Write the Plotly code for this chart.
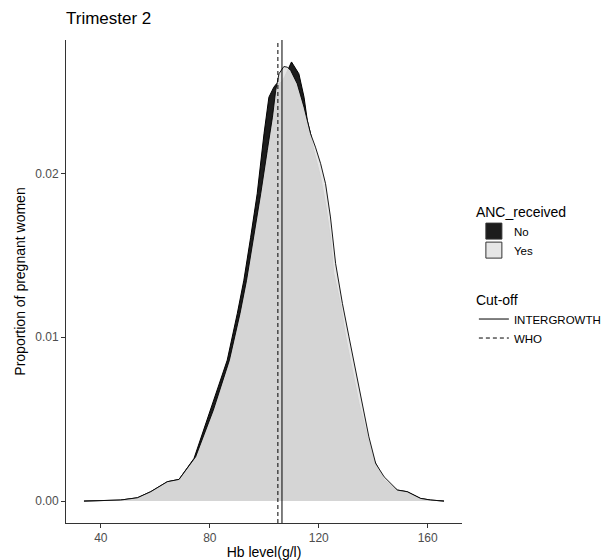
import plotly.graph_objects as go

# ---- data ----
no_hb = [33.8, 41.1, 47.2, 53.4, 58.3, 64.4, 68.7, 74.2, 80.3, 86.4, 90.1, 92.5, 95.0, 97.4,
         99.9, 101.7, 103.5, 104.5, 105.5, 106.5, 107.5, 108.5, 110.0, 112.7, 114.6, 115.8,
         117.0, 118.2, 120.7, 122.5, 124.3, 125.5, 128.0, 129.9, 132.3, 134.8, 137.9, 140.3,
         144.0, 148.9, 152.5, 157.4, 161.1, 166.0]
no_density = [0.0, 0.00002, 0.00006, 0.0002, 0.00057, 0.00118, 0.00132, 0.0026, 0.00555, 0.0086,
              0.01145, 0.01348, 0.0161, 0.01876, 0.02242, 0.02465, 0.02526, 0.02547, 0.0255,
              0.0256, 0.0259, 0.0263, 0.0268, 0.02608, 0.02465, 0.02323, 0.02242, 0.0214,
              0.01977, 0.01815, 0.01612, 0.0139, 0.01205, 0.01002, 0.00799, 0.00596, 0.00392,
              0.0025, 0.0013, 0.00067, 0.00057, 0.00016, 0.00006, 0.0]

yes_hb = [33.8, 41.1, 47.2, 53.4, 58.3, 64.4, 68.7, 74.8, 81.3, 87.2, 91.1, 93.5, 96.2, 98.7,
          101.1, 103.0, 104.2, 105.4, 107.2, 108.5, 109.7, 112.1, 114.6, 116.4, 117.0, 118.8,
          120.7, 122.5, 124.3, 126.2, 128.7, 131.1, 133.6, 136.0, 138.4, 140.9, 144.0, 148.9,
          152.5, 157.4, 161.1, 166.0]
yes_density = [0.0, 0.00002, 0.00006, 0.0002, 0.00057, 0.00118, 0.00132, 0.0027, 0.00555, 0.0086,
               0.01145, 0.01348, 0.0161, 0.01876, 0.0214, 0.02343, 0.02506, 0.02608, 0.02652,
               0.02648, 0.02628, 0.02547, 0.02404, 0.02282, 0.02242, 0.0216, 0.02059, 0.01937,
               0.01734, 0.01449, 0.01205, 0.01002, 0.00799, 0.00596, 0.00392, 0.0023, 0.00148,
               0.00067, 0.00057, 0.00016, 0.00006, 0.0]

groups = ["No", "Yes"]
cutoff_names = ["INTERGROWTH", "WHO"]
cutoff_values = [106.5, 105.0]

x_ticks = [40, 80, 120, 160]
y_ticks = [0.00, 0.01, 0.02]

x_range = [27.2, 172.6]
y_range = [-0.00134, 0.02814]

FONT = "Liberation Sans, Arial, sans-serif"

fig = go.Figure()

# density areas
fig.add_trace(go.Scatter(x=no_hb, y=no_density, mode="lines", fill="tozeroy",
                         fillcolor="#1c1c1c", line=dict(color="black", width=1),
                         showlegend=False, hoverinfo="skip"))
fig.add_trace(go.Scatter(x=yes_hb, y=yes_density, mode="lines", fill="tozeroy",
                         fillcolor="rgba(228,228,228,0.925)", line=dict(color="black", width=0.9),
                         showlegend=False, hoverinfo="skip"))

# cut-off lines
dashes = ["solid", "4px,3px"]
for name, val, dsh in zip(cutoff_names, cutoff_values, dashes):
    fig.add_trace(go.Scatter(x=[val, val], y=y_range, mode="lines",
                             line=dict(color="black", width=1, dash=dsh),
                             name=name, legend="legend2", hoverinfo="skip"))

# legend swatches for ANC_received
swatch_colors = ["#1c1c1c", "#e6e6e6"]
for g, c in zip(groups, swatch_colors):
    fig.add_trace(go.Scatter(x=[None], y=[None], mode="markers", name=g,
                             marker=dict(symbol="square", size=16, color=c,
                                         line=dict(color="#333333", width=1)),
                             legend="legend"))

axis_common = dict(showgrid=False, zeroline=False, showline=True, linecolor="#333333",
                   linewidth=1, ticks="outside", ticklen=4, tickcolor="#333333",
                   tickfont=dict(family=FONT, size=12, color="#4d4d4d"))

fig.update_layout(
    width=602, height=552,
    margin=dict(l=58, r=148, t=32, b=37, autoexpand=False),
    paper_bgcolor="white", plot_bgcolor="white",
    font=dict(family=FONT, color="black"),
    title=dict(text="Trimester 2", x=0, xref="paper", xanchor="left",
               y=1 - 10 / 552, yref="container", yanchor="middle",
               font=dict(family=FONT, size=17, color="black")),
    xaxis=dict(range=x_range, tickvals=x_ticks, ticktext=[str(v) for v in x_ticks],
               title=dict(text="Hb level(g/l)", font=dict(family=FONT, size=14), standoff=2),
               automargin=False, **axis_common),
    yaxis=dict(range=y_range, tickvals=y_ticks, ticktext=[f"{v:.2f}" for v in y_ticks],
               title=dict(text="Proportion of pregnant women", font=dict(family=FONT, size=14),
                          standoff=6),
               automargin=False, **axis_common),
    legend=dict(title=dict(text="ANC_received", font=dict(family=FONT, size=14)),
                x=1.030, y=0.672, xanchor="left", yanchor="top",
                font=dict(family=FONT, size=11.5), itemsizing="trace",
                bgcolor="rgba(0,0,0,0)", tracegroupgap=0),
    legend2=dict(title=dict(text="Cut-off", font=dict(family=FONT, size=14)),
                 x=1.030, y=0.49, xanchor="left", yanchor="top",
                 font=dict(family=FONT, size=11.5),
                 bgcolor="rgba(0,0,0,0)"),
)

fig.write_html("out.html")
